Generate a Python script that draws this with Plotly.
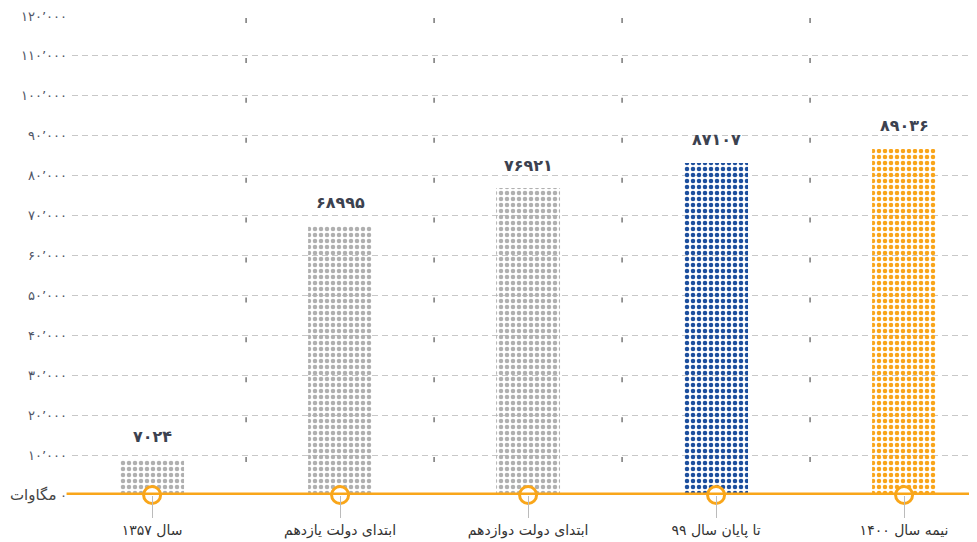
import plotly.graph_objects as go

categories = ["سال ۱۳۵۷", "ابتدای دولت یازدهم", "ابتدای دولت دوازدهم",
              "تا پایان سال ۹۹", "نیمه سال ۱۴۰۰"]
bar_heights = [8800, 67400, 76900, 83200, 86700]
value_labels = ["۷۰۲۴", "۶۸۹۹۵", "۷۶۹۲۱", "۸۷۱۰۷", "۸۹۰۳۶"]
bar_colors = ["#b0b0b0", "#b0b0b0", "#b0b0b0", "#1d4f9e", "#f9a51a"]

tick_values = [0, 10000, 20000, 30000, 40000, 50000, 60000,
               70000, 80000, 90000, 100000, 110000, 120000]
tick_labels = ["۰", "۱۰٬۰۰۰", "۲۰٬۰۰۰", "۳۰٬۰۰۰", "۴۰٬۰۰۰", "۵۰٬۰۰۰",
               "۶۰٬۰۰۰", "۷۰٬۰۰۰", "۸۰٬۰۰۰", "۹۰٬۰۰۰", "۱۰۰٬۰۰۰",
               "۱۱۰٬۰۰۰", "۱۲۰٬۰۰۰"]
unit_label = "مگاوات"

ORANGE = "#f9a61a"
FONT = "DejaVu Sans, Noto Sans"

x_idx = list(range(len(categories)))

fig = go.Figure()

fig.add_bar(
    x=x_idx, y=bar_heights, width=0.34,
    marker=dict(color=bar_colors, line_width=0,
                pattern=dict(shape=".", size=6, solidity=0.45,
                             fillmode="replace")),
    hoverinfo="skip", showlegend=False,
)

# orange base line from the unit label to the right edge
fig.add_shape(type="line", xref="paper", yref="y", x0=-0.006, x1=1,
              y0=0, y1=0, line=dict(color=ORANGE, width=5), layer="above")

# little dark marks under every gridline between categories
for k in x_idx[:-1]:
    for v in tick_values:
        fig.add_shape(type="line", xref="x", yref="y", ysizemode="pixel",
                      yanchor=v, x0=k + 0.5, x1=k + 0.5, y0=-2, y1=-7,
                      line=dict(color="#555555", width=1.2))

# circles on the base line
fig.add_scatter(
    x=x_idx, y=[0] * len(x_idx), mode="markers", cliponaxis=False,
    marker=dict(size=17, color="white", line=dict(color=ORANGE, width=3)),
    hoverinfo="skip", showlegend=False,
)

for k, (h, lab) in enumerate(zip(bar_heights, value_labels)):
    fig.add_annotation(x=k, y=h, text=f"<b>{lab}</b>", showarrow=False,
                       yshift=23, font=dict(size=16, color="#3c4250",
                                            family=FONT))

fig.add_annotation(xref="paper", yref="y", x=-0.016, y=0, xanchor="right",
                   text=unit_label, showarrow=False,
                   font=dict(size=15, color="#444444", family=FONT))

fig.update_xaxes(
    range=[-0.426, 4.388], tickvals=x_idx, ticktext=categories,
    ticks="outside", ticklen=22, tickcolor="#bbbbbb", tickwidth=1,
    showgrid=False, zeroline=False, showline=False,
    tickfont=dict(size=14, color="#333333", family=FONT),
)
fig.update_yaxes(
    range=[0, 120000], tickvals=tick_values, ticktext=tick_labels,
    showgrid=True, gridcolor="#c8c8c8", griddash="6px,4px", gridwidth=1,
    zeroline=False, showline=False, ticks="", ticklabelstandoff=4,
    tickfont=dict(size=13, color="#4f5566", family=FONT),
)

# the page body keeps an 8px margin, so the figure is 8px smaller
fig.update_layout(
    width=969, height=534,
    margin=dict(l=64, r=0, t=8, b=47),
    plot_bgcolor="white", paper_bgcolor="white",
    font=dict(family=FONT),
)

fig.write_html("out.html")
